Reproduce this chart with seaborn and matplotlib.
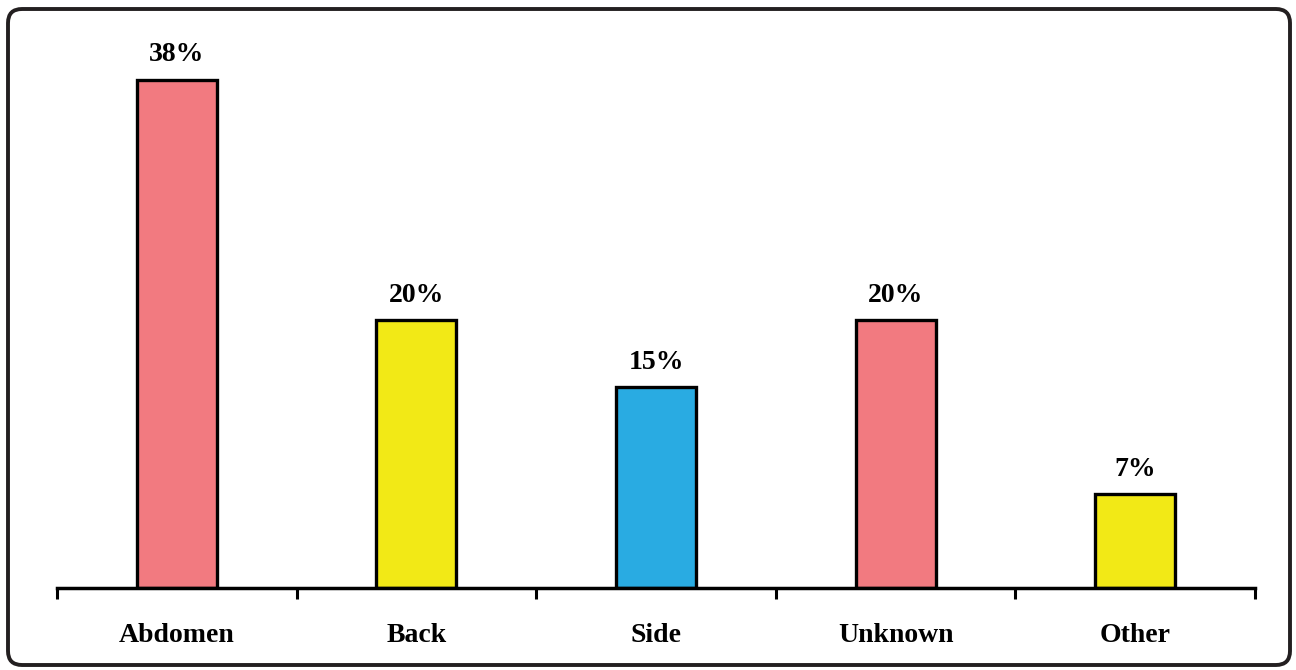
import matplotlib
matplotlib.use("Agg")
import matplotlib.pyplot as plt
import pandas as pd
import seaborn as sns
from matplotlib.patches import FancyBboxPatch

categories = ["Abdomen", "Back", "Side", "Unknown", "Other"]
percent = [38, 20, 15, 20, 7]
bar_colors = ["#F27A80", "#F2E916", "#29ABE2", "#F27A80", "#F2E916"]

sns.set_theme(style="white")
plt.rcParams["font.family"] = ["Liberation Serif", "DejaVu Serif"]
plt.rcParams["text.color"] = "black"
plt.rcParams["xtick.color"] = "black"

df = pd.DataFrame({"location": categories, "pct": percent})

fig = plt.figure(figsize=(12.96, 6.70), dpi=100)
ax = fig.add_axes([0.044, 0.1224, 0.9244, 0.7985])

sns.barplot(
    data=df, x="location", y="pct", hue="location", palette=bar_colors,
    width=0.334, edgecolor="black", linewidth=2.4, legend=False, ax=ax,
    saturation=1,
)

for i, v in enumerate(percent):
    ax.annotate(f"{v}%", (i, v), xytext=(0, 9), textcoords="offset points",
                ha="center", va="bottom", fontsize=20, fontweight="bold",
                color="black")

ax.set_xlim(-0.5, len(categories) - 0.5)
ax.set_ylim(0, 40)
ax.set_xlabel("")
ax.set_ylabel("")
ax.set_yticks([])
for side in ["left", "right", "top"]:
    ax.spines[side].set_visible(False)
ax.spines["bottom"].set_linewidth(2.5)
ax.spines["bottom"].set_color("black")

ax.set_xticks(range(len(categories)))
ax.set_xticklabels(categories, fontsize=20, fontweight="bold", color="black")
ax.set_xticks([i - 0.5 for i in range(len(categories) + 1)], minor=True)
ax.tick_params(axis="x", which="major", length=0, pad=25)
ax.tick_params(axis="x", which="minor", bottom=True, length=8, width=2.2,
               color="black", direction="out")

border = FancyBboxPatch((8, 5), 1282, 656,
                        boxstyle="round,pad=0,rounding_size=14",
                        transform=None, fill=False, edgecolor="#231F20",
                        linewidth=2.8)
fig.add_artist(border)

fig.savefig("out.png", dpi=100)
